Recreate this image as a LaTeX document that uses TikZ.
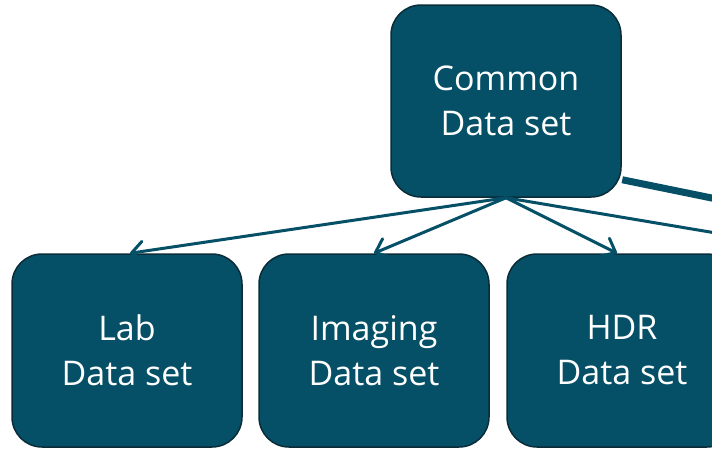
\documentclass[tikz,border=0pt]{standalone}
\usepackage{fontspec}
\setmainfont{Open Sans}
\usetikzlibrary{arrows.meta}
\definecolor{teal1}{HTML}{055067}
\definecolor{edge1}{HTML}{0B2C38}
\tikzset{
  dbox/.style={draw=edge1, line width=1.5pt, fill=teal1, rounded corners=30pt,
    minimum width=230pt, minimum height=192pt, text=white, align=center,
    font=\fontsize{34pt}{45pt}\selectfont, inner sep=0pt},
  link/.style={draw=teal1, line width=3pt,
    -{Straight Barb[length=12pt,width=20pt,line cap=round,line join=round]}},
  plain/.style={draw=teal1, line width=3pt},
  thick link/.style={draw=teal1, line width=7pt}
}
\begin{document}
\begin{tikzpicture}[x=1pt,y=-1pt]
\useasboundingbox (0,0) rectangle (712,448);
\clip (0,0) rectangle (712,448);
\node[dbox] (common) at (506,101) {Common\\Data set};
\node[dbox, minimum height=193pt] (lab) at (127,350.5) {Lab\\Data set};
\node[dbox, minimum height=193pt] (img) at (374,350.5) {Imaging\\Data set};
\node[dbox, minimum height=193pt] (hdr) at (622,350.5) {HDR\\Data set};
\coordinate (d4) at (835,253);
\coordinate (d5) at (800,216);
\draw[link] (common.south) -- ([xshift=3pt]lab.north);
\draw[link] (common.south) -- (img.north);
\draw[link] (common.south) -- ([xshift=-5pt]hdr.north);
\draw[plain] (common.south) -- (d4);
\draw[thick link] ([yshift=18pt,xshift=0.5pt]common.south east) -- (d5);
\end{tikzpicture}
\end{document}
